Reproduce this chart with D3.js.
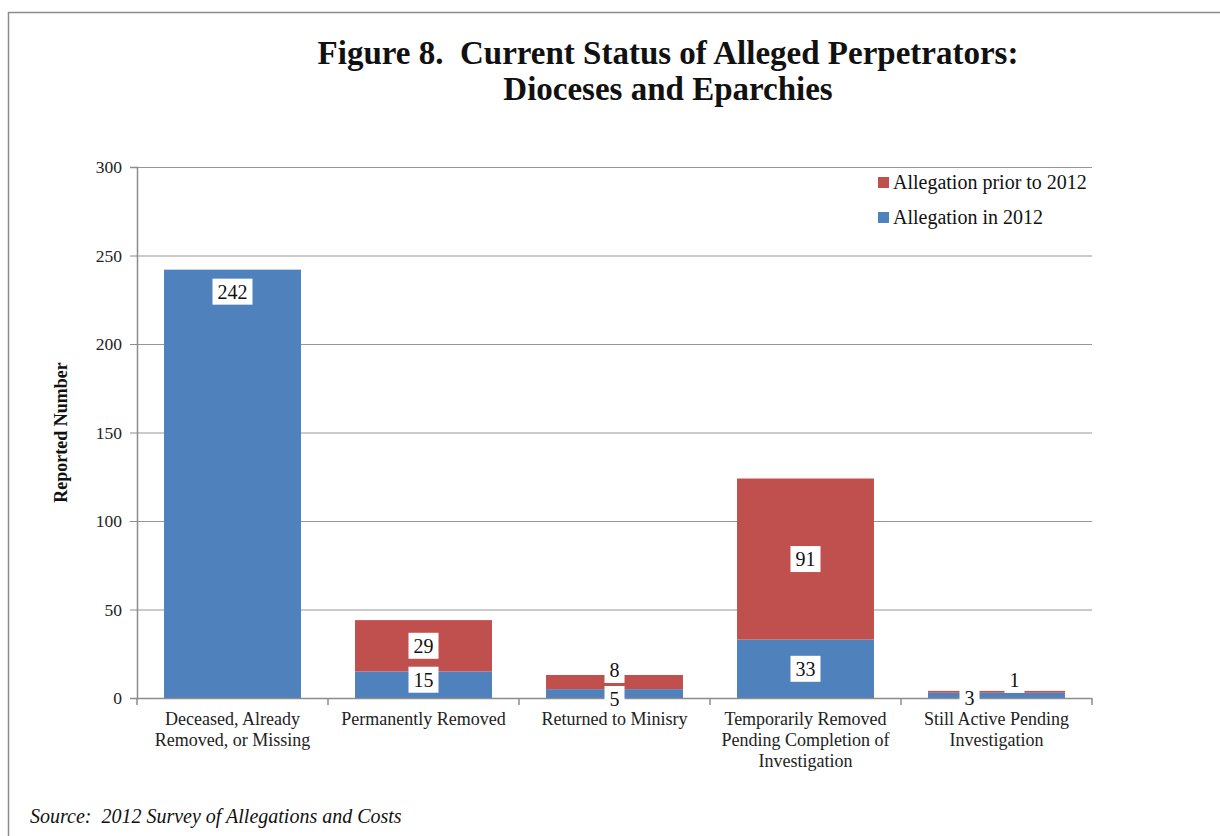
<!DOCTYPE html>
<html>
<head>
<meta charset="utf-8">
<title>Figure 8. Current Status of Alleged Perpetrators</title>
<script src="https://d3js.org/d3.v7.min.js"></script>
<style>
  html, body { margin:0; padding:0; background:#fff; }
  svg { display:block; font-family:"Liberation Serif","Times New Roman",serif; }
</style>
</head>
<body>
<svg id="chart"></svg>
<script>
// data
var categories = [
  ["Deceased, Already", "Removed, or Missing"],
  ["Permanently Removed"],
  ["Returned to Minisry"],
  ["Temporarily Removed", "Pending Completion of", "Investigation"],
  ["Still Active Pending", "Investigation"]
];
var in2012 = [242, 15, 5, 33, 3];
var prior2012 = [0, 29, 8, 91, 1];
var seriesNames = ["Allegation prior to 2012", "Allegation in 2012"];
var yTicks = [0, 50, 100, 150, 200, 250, 300];

var width = 1220, height = 836;
var margin = {left:137, right:128, top:167, bottom:138};
var blue = "#4F81BD", red = "#C0504D";

var svg = d3.select("#chart").attr("width", width).attr("height", height);

// outer frame
svg.append("path")
  .attr("d", "M8.5,836 L8.5,12.5 L1220,12.5")
  .attr("fill", "none").attr("stroke", "#8c8c8c").attr("stroke-width", 1.5);

var x = d3.scaleBand()
  .domain(d3.range(categories.length))
  .range([margin.left, width - margin.right])
  .paddingInner(0.283).paddingOuter(0.1415);
var y = d3.scaleLinear().domain([0, 300]).range([height - margin.bottom, margin.top]);

// grid
svg.append("g").selectAll("line").data(yTicks.filter(function(d){ return d > 0; }))
  .enter().append("line")
  .attr("x1", margin.left).attr("x2", width - margin.right)
  .attr("y1", function(d){ return y(d) + 0.5; }).attr("y2", function(d){ return y(d) + 0.5; })
  .attr("stroke", "#979797").attr("stroke-width", 1);

// y axis
var yAxis = svg.append("g")
  .attr("transform", "translate(" + margin.left + ",0)")
  .call(d3.axisLeft(y).tickValues(yTicks).tickSize(7).tickPadding(8));
yAxis.select(".domain").attr("stroke", "#8c8c8c").attr("stroke-width", 1.5);
yAxis.selectAll(".tick line").attr("stroke", "#8c8c8c");
yAxis.selectAll("text").attr("font-size", 17.5).attr("fill", "#222")
  .attr("font-family", "Liberation Serif");

// bars
var stacked = categories.map(function(c, i){
  return {i:i, blue:in2012[i], red:prior2012[i]};
});
var bars = svg.append("g");
bars.selectAll(".b").data(stacked).enter().append("rect")
  .attr("x", function(d){ return x(d.i); })
  .attr("width", x.bandwidth())
  .attr("y", function(d){ return y(d.blue); })
  .attr("height", function(d){ return y(0) - y(d.blue); })
  .attr("fill", blue);
bars.selectAll(".r").data(stacked.filter(function(d){ return d.red > 0; })).enter().append("rect")
  .attr("x", function(d){ return x(d.i); })
  .attr("width", x.bandwidth())
  .attr("y", function(d){ return y(d.blue + d.red); })
  .attr("height", function(d){ return y(d.blue) - y(d.blue + d.red); })
  .attr("fill", red);

// x axis
var baseY = y(0);
svg.append("line").attr("x1", margin.left).attr("x2", width - margin.right)
  .attr("y1", baseY + 0.5).attr("y2", baseY + 0.5)
  .attr("stroke", "#8c8c8c").attr("stroke-width", 1.5);
var step = x.step();
svg.append("g").selectAll("line").data(d3.range(categories.length + 1)).enter().append("line")
  .attr("x1", function(d){ return margin.left + d * step; })
  .attr("x2", function(d){ return margin.left + d * step; })
  .attr("y1", baseY).attr("y2", baseY + 7)
  .attr("stroke", "#8c8c8c").attr("stroke-width", 1.5);

// data labels
var labels = [];
stacked.forEach(function(d){
  var cx = x(d.i) + x.bandwidth() / 2;
  labels.push({v:d.blue, x:cx, y:(y(0) + y(d.blue)) / 2});
  if (d.red > 0) labels.push({v:d.red, x:cx, y:(y(d.blue) + y(d.blue + d.red)) / 2});
});
// nudges where segments are too small or too tall (label placement like the original)
labels[0].y = y(in2012[0]) + 22;
labels[1].y -= 5;
labels[3].y = y(0) + 1;  labels[4].y = y(13) - 5;
labels[7].x -= 27; labels[7].y = y(0);
labels[8].x += 18; labels[8].y = y(4) - 11;

var lg = svg.append("g").selectAll("g").data(labels).enter().append("g")
  .attr("transform", function(d){ return "translate(" + d.x + "," + d.y + ")"; });
lg.append("text").attr("text-anchor", "middle").attr("dy", "0.35em")
  .attr("font-size", 20).attr("fill", "#111").text(function(d){ return d.v; })
  .each(function(){
    var bb = this.getBBox();
    d3.select(this.parentNode).insert("rect", "text")
      .attr("x", bb.x - 5).attr("y", -13).attr("width", bb.width + 10).attr("height", 26)
      .attr("fill", "#fff");
  });

// category labels (drawn after data labels so they stay visible)
var xl = svg.append("g").selectAll("text").data(categories).enter().append("text")
  .attr("text-anchor", "middle").attr("font-size", 18).attr("fill", "#222")
  .attr("x", function(d, i){ return x(i) + x.bandwidth() / 2; })
  .attr("y", baseY + 27);
xl.selectAll("tspan").data(function(d){ return d; }).enter().append("tspan")
  .attr("x", function(){ return d3.select(this.parentNode).attr("x"); })
  .attr("dy", function(d, j){ return j === 0 ? 0 : 21; })
  .text(function(d){ return d; });

// y title
svg.append("text")
  .attr("transform", "translate(67," + (margin.top + (baseY - margin.top) / 2) + ") rotate(-90)")
  .attr("text-anchor", "middle").attr("font-size", 18).attr("font-weight", "bold")
  .attr("fill", "#111").text("Reported Number");

// title
var title = svg.append("text").attr("text-anchor", "middle").attr("font-size", 33)
  .attr("font-weight", "bold").attr("fill", "#111");
title.append("tspan").attr("x", 668).attr("y", 64)
  .text("Figure 8.\u00a0 Current Status of Alleged Perpetrators:");
title.append("tspan").attr("x", 668).attr("y", 100).text("Dioceses and Eparchies");

// legend
var legColors = [red, blue];
var leg = svg.append("g").selectAll("g").data(seriesNames).enter().append("g")
  .attr("transform", function(d, i){ return "translate(878," + (177 + i * 35) + ")"; });
leg.append("rect").attr("width", 11).attr("height", 11)
  .attr("fill", function(d, i){ return legColors[i]; });
leg.append("text").attr("x", 15).attr("y", 12).attr("font-size", 20).attr("fill", "#111")
  .text(function(d){ return d; });

// source
svg.append("text").attr("x", 30).attr("y", 823).attr("font-size", 20)
  .attr("font-style", "italic").attr("fill", "#111")
  .text("Source:\u00a0 2012 Survey of Allegations and Costs");
</script>
</body>
</html>
